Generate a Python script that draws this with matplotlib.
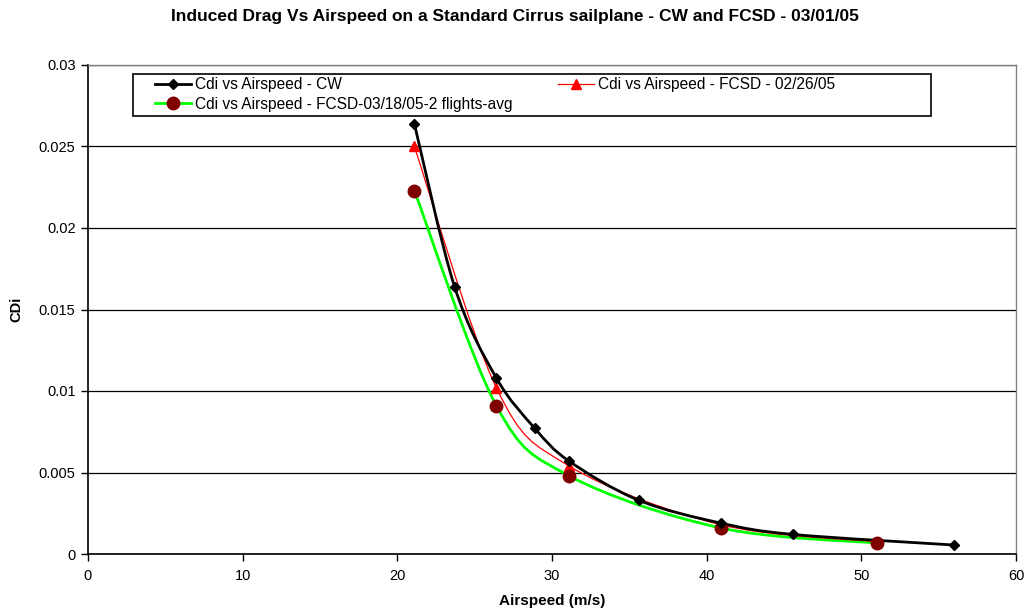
import matplotlib
matplotlib.use("Agg")
import matplotlib.pyplot as plt
import numpy as np
from matplotlib.path import Path
from matplotlib.patches import PathPatch, Rectangle
from matplotlib.lines import Line2D

plt.rcParams['font.family'] = ['Liberation Sans', 'DejaVu Sans']

title = "Induced Drag Vs Airspeed on a Standard Cirrus sailplane - CW and FCSD - 03/01/05"
xlabel = "Airspeed (m/s)"
ylabel = "CDi"

cw_x = [21.1, 23.7, 26.4, 28.9, 31.1, 35.6, 40.9, 45.6, 56.0]
cw_y = [0.0264, 0.0164, 0.0108, 0.0077, 0.0057, 0.0033, 0.0019, 0.0012, 0.00055]
cw_label = "Cdi vs Airspeed - CW"

fc1_x = [21.1, 26.4, 31.1, 40.9, 51.0]
fc1_y = [0.0250, 0.0102, 0.0054, 0.0018, 0.00075]
fc1_label = "Cdi vs Airspeed - FCSD - 02/26/05"

fc2_x = [21.1, 26.4, 31.1, 40.9, 51.0]
fc2_y = [0.0223, 0.0091, 0.0048, 0.0016, 0.00067]
fc2_label = "Cdi vs Airspeed - FCSD-03/18/05-2 flights-avg"

xticks = [0, 10, 20, 30, 40, 50, 60]
yticks = [0, 0.005, 0.01, 0.015, 0.02, 0.025, 0.03]
ytick_labels = ["0", "0.005", "0.01", "0.015", "0.02", "0.025", "0.03"]

W, H = 1029, 612


def smooth_path(xs, ys):
    pts = np.column_stack([xs, ys]).astype(float)
    n = len(pts)
    verts = [pts[0]]
    codes = [Path.MOVETO]
    for i in range(n - 1):
        p0 = pts[i - 1] if i > 0 else pts[i]
        p1 = pts[i]
        p2 = pts[i + 1]
        p3 = pts[i + 2] if i + 2 < n else pts[i + 1]
        c1 = p1 + (p2 - p0) / 6.0
        c2 = p2 - (p3 - p1) / 6.0
        verts += [c1, c2, p2]
        codes += [Path.CURVE4] * 3
    return Path(verts, codes)


fig = plt.figure(figsize=(W / 100, H / 100), dpi=100)
ax = fig.add_axes([88 / W, 1 - 554 / H, (1016 - 88) / W, (554 - 65) / H])

ax.set_xlim(0, 60)
ax.set_ylim(0, 0.03)
ax.set_xticks(xticks)
ax.set_yticks(yticks)
ax.set_yticklabels(ytick_labels)
ax.tick_params(axis='both', labelsize=10.5, direction='out', length=5, width=1, colors='black')
ax.tick_params(axis='x', pad=6)
ax.tick_params(axis='y', pad=4)
ax.grid(axis='y', color='black', linewidth=0.9)
ax.set_axisbelow(True)
for s in ['top', 'right']:
    ax.spines[s].set_color('#808080')
    ax.spines[s].set_linewidth(1)
for s in ['left', 'bottom']:
    ax.spines[s].set_color('black')
    ax.spines[s].set_linewidth(1.2)

styles = {
    cw_label: dict(x=cw_x, y=cw_y, lc='black', lw=2.0, mk='D', mc='black', ms=5, lz=3.3, mz=4.3),
    fc1_label: dict(x=fc1_x, y=fc1_y, lc='red', lw=0.9, mk='^', mc='red', ms=7, lz=3.2, mz=4.1),
    fc2_label: dict(x=fc2_x, y=fc2_y, lc='#00ff00', lw=2.0, mk='o', mc='#800000', ms=9, lz=3.1, mz=4.2),
}
handles = {}
for lab, st in styles.items():
    ax.add_patch(PathPatch(smooth_path(st['x'], st['y']), facecolor='none',
                           edgecolor=st['lc'], lw=st['lw'], zorder=st['lz']))
    ax.plot(st['x'], st['y'], linestyle='none', marker=st['mk'], color=st['mc'],
            markersize=st['ms'], zorder=st['mz'])
    handles[lab] = Line2D([], [], color=st['lc'], lw=st['lw'], marker=st['mk'],
                          markerfacecolor=st['mc'], markeredgecolor=st['mc'], markersize=st['ms'])

# legend frame
fig.patches.append(Rectangle((133 / W, 1 - 116 / H), (931 - 133) / W, (116 - 74) / H,
                             transform=fig.transFigure, facecolor='white', edgecolor='black',
                             lw=1.2, zorder=5))
order = [cw_label, fc2_label, fc1_label]
leg = fig.legend([handles[k] for k in order], order, ncol=2, loc='upper left',
                 bbox_to_anchor=(155 / W, 1 - 77 / H), fontsize=11.2,
                 frameon=False, borderpad=0, borderaxespad=0,
                 handlelength=2.3, handletextpad=0.3, columnspacing=2.9, labelspacing=0.3)
leg.set_zorder(6)

ax.set_xlabel(xlabel, fontsize=11, fontweight='bold', labelpad=8)
ax.set_ylabel(ylabel, fontsize=10.5, fontweight='bold', labelpad=11)
fig.text(0.5, 1 - 16 / H, title, ha='center', va='center', fontsize=12.5, fontweight='bold')

fig.savefig("out.png", dpi=100)
